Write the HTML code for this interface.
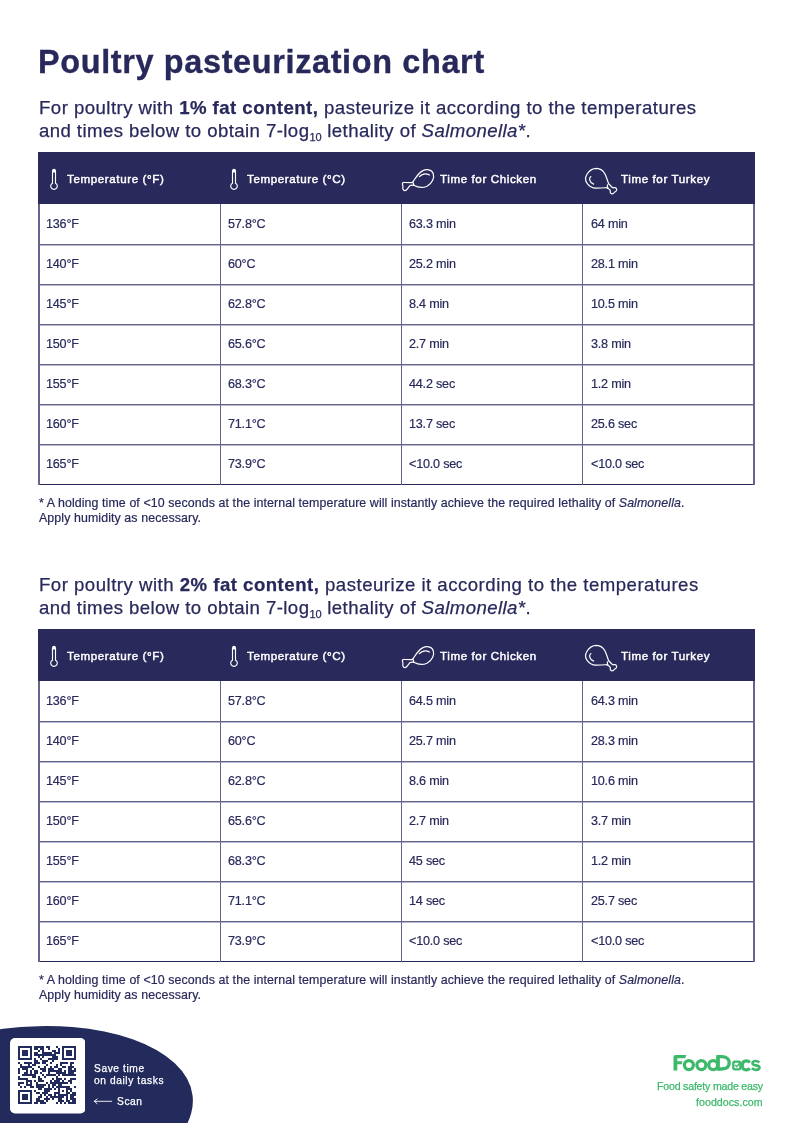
<!DOCTYPE html>
<html><head><meta charset="utf-8"><style>
*{margin:0;padding:0;box-sizing:border-box}
html,body{width:794px;height:1123px;background:#fff;overflow:hidden}
body{position:relative;font-family:"Liberation Sans",sans-serif;color:#28295b}
.t{position:absolute;white-space:nowrap;line-height:1;will-change:transform}
.ic{position:absolute;display:block}
.title{font-size:32.4px;font-weight:bold;letter-spacing:0.66px;-webkit-text-stroke:0.35px #28295b}
.sub{font-size:18.6px;letter-spacing:0.465px;-webkit-text-stroke:0.25px #28295b}
.sub sub{font-size:11px;vertical-align:0;position:relative;top:4px;letter-spacing:0}
.sub b{font-weight:bold}
.hdr{position:absolute;left:38px;width:717px;height:52px;background:#29295b}
.th{font-size:11.6px;color:#fff;letter-spacing:0.6px;-webkit-text-stroke:0.45px #fff}
.td{font-size:12.6px;letter-spacing:-0.2px;-webkit-text-stroke:0.2px #28295b}
.fn{font-size:12.4px;letter-spacing:0.09px;-webkit-text-stroke:0.2px #28295b}
.hl{position:absolute;left:38px;width:717px;height:1px;background:#64648f;box-shadow:0 1px 0 rgba(100,100,143,0.45)}
.hlb{position:absolute;left:38px;width:717px;height:1.2px;background:#28295b}
.vl{position:absolute;width:1.2px;height:281px;background:#64648f}
.ft{font-size:10.2px;color:#fff;letter-spacing:0.6px;-webkit-text-stroke:0.25px #fff}
.gt{font-size:10.6px;color:#3eb96b;-webkit-text-stroke:0.25px #3eb96b}
</style></head><body>
<div class="t title" style="left:37.8px;top:45.57px;">Poultry pasteurization chart</div>
<div class="t sub" style="left:38.6px;top:99.06px;">For poultry with <b>1% fat content,</b> pasteurize it according to the temperatures</div>
<div class="t sub" style="left:38.6px;top:121.76px;letter-spacing:0.42px">and times below to obtain 7-log<sub>10</sub> lethality of <i>Salmonella*</i>.</div>
<div class="hdr" style="top:152px"></div>
<svg class="ic" style="left:46px;top:166px" width="16" height="26" viewBox="0 0 16 26"><path d="M6.0 6.6 V4.7 A2.0 2.0 0 0 1 10.0 4.7 V6.6 Z" fill="#fff"/><path d="M6.5 5 V17.16 A3.3 3.3 0 1 0 9.5 17.16 V5" fill="none" stroke="#fff" stroke-width="1.15"/></svg><svg class="ic" style="left:226.3px;top:166px" width="16" height="26" viewBox="0 0 16 26"><path d="M6.0 6.6 V4.7 A2.0 2.0 0 0 1 10.0 4.7 V6.6 Z" fill="#fff"/><path d="M6.5 5 V17.16 A3.3 3.3 0 1 0 9.5 17.16 V5" fill="none" stroke="#fff" stroke-width="1.15"/></svg><svg class="ic" style="left:398px;top:166px" width="40" height="28" viewBox="0 0 40 28"><g fill="none" stroke="#fff" stroke-width="1.2" stroke-linejoin="round" stroke-linecap="round"><path d="M15.2 15.4 C17.5 12 20.5 7 24.5 4.9 C28.5 2.9 33.5 3.2 35.2 7.5 C36.6 11.5 34.5 17.5 29 20.2 C25 22 20 21.6 15.8 19.2"/><path d="M15.2 15.4 C14.8 16.2 14.6 16.5 13.8 16.6 L6.4 16.5 C5.1 16.3 4.3 17 4.4 18.1 C4.5 19.2 5.3 20 4.9 21 C4.5 22.3 5.1 24.2 6.8 24.6 C7.9 24.8 8.6 24 9.4 22.9 L11.6 19.9 C12.2 19.2 13 19.1 15.8 19.2"/><path d="M14.6 16.3 C15.5 17 15.8 18.2 15.6 19.2"/><path d="M21.4 10.6 C23.5 8.4 27.5 6.8 31.4 9"/></g></svg><svg class="ic" style="left:580px;top:164px" width="40" height="34" viewBox="0 0 40 34"><g fill="none" stroke="#fff" stroke-width="1.2" stroke-linejoin="round" stroke-linecap="round"><path d="M28.6 19.7 C27.5 16.5 26.5 13 25 10 C23.2 6.5 20.5 4.4 16.6 4.3 C12.5 4.3 9 6.8 7 10.2 C5.2 13.2 5 17 7.5 19.8 C9.5 22.2 12.5 24 15.5 24.1 C19.5 24.2 23.5 23.9 26.7 23.7"/><path d="M28.6 19.7 C30 21 31.2 22.5 32.4 23.6 C33.2 24.2 34 23.4 35 23.6 C36.5 23.9 37 25.3 36.4 26.6 C36 27.6 34.8 27.7 34.3 28.5 C33.8 29.3 33.2 29.9 32 29.8 C30.6 29.6 30 28.5 30.3 27.2 C30.5 26.4 30 25.8 29.3 25.2 L26.7 23.7"/><path d="M27.4 20.8 C27.2 22 27.3 23 28 23.9"/><path d="M10.9 12.6 C9 13.8 8.6 17.8 13.6 20.1"/></g></svg><div class="t th" style="left:66.5px;top:173.38px;">Temperature (°F)</div>
<div class="t th" style="left:247.3px;top:173.38px;">Temperature (°C)</div>
<div class="t th" style="left:440.2px;top:173.38px;">Time for Chicken</div>
<div class="t th" style="left:621.4px;top:173.38px;">Time for Turkey</div>
<div class="hl" style="top:244px"></div>
<div class="hl" style="top:284px"></div>
<div class="hl" style="top:324px"></div>
<div class="hl" style="top:364px"></div>
<div class="hl" style="top:404px"></div>
<div class="hl" style="top:444px"></div>
<div class="hlb" style="top:484px"></div>
<div class="vl" style="left:219.5px;top:204px"></div>
<div class="vl" style="left:401.0px;top:204px"></div>
<div class="vl" style="left:582.3px;top:204px"></div>
<div class="vl" style="left:38px;width:1.9px;top:204px"></div>
<div class="vl" style="left:753.1px;width:1.9px;top:204px"></div>
<div class="t td" style="left:46.4px;top:218.13px;">136°F</div>
<div class="t td" style="left:228.1px;top:218.13px;">57.8°C</div>
<div class="t td" style="left:409.1px;top:218.13px;">63.3 min</div>
<div class="t td" style="left:590.9px;top:218.13px;">64 min</div>
<div class="t td" style="left:46.4px;top:258.13px;">140°F</div>
<div class="t td" style="left:228.1px;top:258.13px;">60°C</div>
<div class="t td" style="left:409.1px;top:258.13px;">25.2 min</div>
<div class="t td" style="left:590.9px;top:258.13px;">28.1 min</div>
<div class="t td" style="left:46.4px;top:298.13px;">145°F</div>
<div class="t td" style="left:228.1px;top:298.13px;">62.8°C</div>
<div class="t td" style="left:409.1px;top:298.13px;">8.4 min</div>
<div class="t td" style="left:590.9px;top:298.13px;">10.5 min</div>
<div class="t td" style="left:46.4px;top:338.13px;">150°F</div>
<div class="t td" style="left:228.1px;top:338.13px;">65.6°C</div>
<div class="t td" style="left:409.1px;top:338.13px;">2.7 min</div>
<div class="t td" style="left:590.9px;top:338.13px;">3.8 min</div>
<div class="t td" style="left:46.4px;top:378.13px;">155°F</div>
<div class="t td" style="left:228.1px;top:378.13px;">68.3°C</div>
<div class="t td" style="left:409.1px;top:378.13px;">44.2 sec</div>
<div class="t td" style="left:590.9px;top:378.13px;">1.2 min</div>
<div class="t td" style="left:46.4px;top:418.13px;">160°F</div>
<div class="t td" style="left:228.1px;top:418.13px;">71.1°C</div>
<div class="t td" style="left:409.1px;top:418.13px;">13.7 sec</div>
<div class="t td" style="left:590.9px;top:418.13px;">25.6 sec</div>
<div class="t td" style="left:46.4px;top:458.13px;">165°F</div>
<div class="t td" style="left:228.1px;top:458.13px;">73.9°C</div>
<div class="t td" style="left:409.1px;top:458.13px;">&lt;10.0 sec</div>
<div class="t td" style="left:590.9px;top:458.13px;">&lt;10.0 sec</div>
<div class="t fn" style="left:38.5px;top:497.30px;">* A holding time of &lt;10 seconds at the internal temperature will instantly achieve the required lethality of <i>Salmonella</i>.</div>
<div class="t fn" style="left:38.5px;top:512.10px;">Apply humidity as necessary.</div>

<div class="t sub" style="left:38.6px;top:576.06px;letter-spacing:0.495px;">For poultry with <b>2% fat content,</b> pasteurize it according to the temperatures</div>
<div class="t sub" style="left:38.6px;top:598.76px;letter-spacing:0.42px">and times below to obtain 7-log<sub>10</sub> lethality of <i>Salmonella*</i>.</div>
<div class="hdr" style="top:629px"></div>
<svg class="ic" style="left:46px;top:643px" width="16" height="26" viewBox="0 0 16 26"><path d="M6.0 6.6 V4.7 A2.0 2.0 0 0 1 10.0 4.7 V6.6 Z" fill="#fff"/><path d="M6.5 5 V17.16 A3.3 3.3 0 1 0 9.5 17.16 V5" fill="none" stroke="#fff" stroke-width="1.15"/></svg><svg class="ic" style="left:226.3px;top:643px" width="16" height="26" viewBox="0 0 16 26"><path d="M6.0 6.6 V4.7 A2.0 2.0 0 0 1 10.0 4.7 V6.6 Z" fill="#fff"/><path d="M6.5 5 V17.16 A3.3 3.3 0 1 0 9.5 17.16 V5" fill="none" stroke="#fff" stroke-width="1.15"/></svg><svg class="ic" style="left:398px;top:643px" width="40" height="28" viewBox="0 0 40 28"><g fill="none" stroke="#fff" stroke-width="1.2" stroke-linejoin="round" stroke-linecap="round"><path d="M15.2 15.4 C17.5 12 20.5 7 24.5 4.9 C28.5 2.9 33.5 3.2 35.2 7.5 C36.6 11.5 34.5 17.5 29 20.2 C25 22 20 21.6 15.8 19.2"/><path d="M15.2 15.4 C14.8 16.2 14.6 16.5 13.8 16.6 L6.4 16.5 C5.1 16.3 4.3 17 4.4 18.1 C4.5 19.2 5.3 20 4.9 21 C4.5 22.3 5.1 24.2 6.8 24.6 C7.9 24.8 8.6 24 9.4 22.9 L11.6 19.9 C12.2 19.2 13 19.1 15.8 19.2"/><path d="M14.6 16.3 C15.5 17 15.8 18.2 15.6 19.2"/><path d="M21.4 10.6 C23.5 8.4 27.5 6.8 31.4 9"/></g></svg><svg class="ic" style="left:580px;top:641px" width="40" height="34" viewBox="0 0 40 34"><g fill="none" stroke="#fff" stroke-width="1.2" stroke-linejoin="round" stroke-linecap="round"><path d="M28.6 19.7 C27.5 16.5 26.5 13 25 10 C23.2 6.5 20.5 4.4 16.6 4.3 C12.5 4.3 9 6.8 7 10.2 C5.2 13.2 5 17 7.5 19.8 C9.5 22.2 12.5 24 15.5 24.1 C19.5 24.2 23.5 23.9 26.7 23.7"/><path d="M28.6 19.7 C30 21 31.2 22.5 32.4 23.6 C33.2 24.2 34 23.4 35 23.6 C36.5 23.9 37 25.3 36.4 26.6 C36 27.6 34.8 27.7 34.3 28.5 C33.8 29.3 33.2 29.9 32 29.8 C30.6 29.6 30 28.5 30.3 27.2 C30.5 26.4 30 25.8 29.3 25.2 L26.7 23.7"/><path d="M27.4 20.8 C27.2 22 27.3 23 28 23.9"/><path d="M10.9 12.6 C9 13.8 8.6 17.8 13.6 20.1"/></g></svg><div class="t th" style="left:66.5px;top:650.38px;">Temperature (°F)</div>
<div class="t th" style="left:247.3px;top:650.38px;">Temperature (°C)</div>
<div class="t th" style="left:440.2px;top:650.38px;">Time for Chicken</div>
<div class="t th" style="left:621.4px;top:650.38px;">Time for Turkey</div>
<div class="hl" style="top:721px"></div>
<div class="hl" style="top:761px"></div>
<div class="hl" style="top:801px"></div>
<div class="hl" style="top:841px"></div>
<div class="hl" style="top:881px"></div>
<div class="hl" style="top:921px"></div>
<div class="hlb" style="top:961px"></div>
<div class="vl" style="left:219.5px;top:681px"></div>
<div class="vl" style="left:401.0px;top:681px"></div>
<div class="vl" style="left:582.3px;top:681px"></div>
<div class="vl" style="left:38px;width:1.9px;top:681px"></div>
<div class="vl" style="left:753.1px;width:1.9px;top:681px"></div>
<div class="t td" style="left:46.4px;top:695.13px;">136°F</div>
<div class="t td" style="left:228.1px;top:695.13px;">57.8°C</div>
<div class="t td" style="left:409.1px;top:695.13px;">64.5 min</div>
<div class="t td" style="left:590.9px;top:695.13px;">64.3 min</div>
<div class="t td" style="left:46.4px;top:735.13px;">140°F</div>
<div class="t td" style="left:228.1px;top:735.13px;">60°C</div>
<div class="t td" style="left:409.1px;top:735.13px;">25.7 min</div>
<div class="t td" style="left:590.9px;top:735.13px;">28.3 min</div>
<div class="t td" style="left:46.4px;top:775.13px;">145°F</div>
<div class="t td" style="left:228.1px;top:775.13px;">62.8°C</div>
<div class="t td" style="left:409.1px;top:775.13px;">8.6 min</div>
<div class="t td" style="left:590.9px;top:775.13px;">10.6 min</div>
<div class="t td" style="left:46.4px;top:815.13px;">150°F</div>
<div class="t td" style="left:228.1px;top:815.13px;">65.6°C</div>
<div class="t td" style="left:409.1px;top:815.13px;">2.7 min</div>
<div class="t td" style="left:590.9px;top:815.13px;">3.7 min</div>
<div class="t td" style="left:46.4px;top:855.13px;">155°F</div>
<div class="t td" style="left:228.1px;top:855.13px;">68.3°C</div>
<div class="t td" style="left:409.1px;top:855.13px;">45 sec</div>
<div class="t td" style="left:590.9px;top:855.13px;">1.2 min</div>
<div class="t td" style="left:46.4px;top:895.13px;">160°F</div>
<div class="t td" style="left:228.1px;top:895.13px;">71.1°C</div>
<div class="t td" style="left:409.1px;top:895.13px;">14 sec</div>
<div class="t td" style="left:590.9px;top:895.13px;">25.7 sec</div>
<div class="t td" style="left:46.4px;top:935.13px;">165°F</div>
<div class="t td" style="left:228.1px;top:935.13px;">73.9°C</div>
<div class="t td" style="left:409.1px;top:935.13px;">&lt;10.0 sec</div>
<div class="t td" style="left:590.9px;top:935.13px;">&lt;10.0 sec</div>
<div class="t fn" style="left:38.5px;top:974.30px;">* A holding time of &lt;10 seconds at the internal temperature will instantly achieve the required lethality of <i>Salmonella</i>.</div>
<div class="t fn" style="left:38.5px;top:989.10px;">Apply humidity as necessary.</div>

<svg class="ic" style="left:0;top:1000px" width="220" height="123" viewBox="0 1000 220 123"><ellipse cx="14.1" cy="1117.3" rx="179.8" ry="89.2" transform="rotate(-7 14.1 1117.3)" fill="#232a5c"/></svg>
<svg class="ic" style="left:9.5px;top:1038px" width="75.5" height="75.5"><rect x="0" y="0" width="75.5" height="75.5" rx="5" fill="#fff"/></svg>
<svg class="ic" style="left:17.8px;top:1046.4px" width="58.4" height="58.4" viewBox="0 0 29 29" shape-rendering="crispEdges"><path d="M0 0h1v1h-1zM1 0h1v1h-1zM2 0h1v1h-1zM3 0h1v1h-1zM4 0h1v1h-1zM5 0h1v1h-1zM6 0h1v1h-1zM8 0h1v1h-1zM9 0h1v1h-1zM10 0h1v1h-1zM11 0h1v1h-1zM12 0h1v1h-1zM14 0h1v1h-1zM15 0h1v1h-1zM19 0h1v1h-1zM22 0h1v1h-1zM23 0h1v1h-1zM24 0h1v1h-1zM25 0h1v1h-1zM26 0h1v1h-1zM27 0h1v1h-1zM28 0h1v1h-1zM0 1h1v1h-1zM6 1h1v1h-1zM8 1h1v1h-1zM9 1h1v1h-1zM11 1h1v1h-1zM12 1h1v1h-1zM15 1h1v1h-1zM20 1h1v1h-1zM22 1h1v1h-1zM28 1h1v1h-1zM0 2h1v1h-1zM2 2h1v1h-1zM3 2h1v1h-1zM4 2h1v1h-1zM6 2h1v1h-1zM10 2h1v1h-1zM12 2h1v1h-1zM17 2h1v1h-1zM18 2h1v1h-1zM20 2h1v1h-1zM22 2h1v1h-1zM24 2h1v1h-1zM25 2h1v1h-1zM26 2h1v1h-1zM28 2h1v1h-1zM0 3h1v1h-1zM2 3h1v1h-1zM3 3h1v1h-1zM4 3h1v1h-1zM6 3h1v1h-1zM8 3h1v1h-1zM9 3h1v1h-1zM12 3h1v1h-1zM13 3h1v1h-1zM14 3h1v1h-1zM15 3h1v1h-1zM16 3h1v1h-1zM18 3h1v1h-1zM19 3h1v1h-1zM20 3h1v1h-1zM22 3h1v1h-1zM24 3h1v1h-1zM25 3h1v1h-1zM26 3h1v1h-1zM28 3h1v1h-1zM0 4h1v1h-1zM2 4h1v1h-1zM3 4h1v1h-1zM4 4h1v1h-1zM6 4h1v1h-1zM8 4h1v1h-1zM9 4h1v1h-1zM10 4h1v1h-1zM11 4h1v1h-1zM12 4h1v1h-1zM13 4h1v1h-1zM14 4h1v1h-1zM15 4h1v1h-1zM16 4h1v1h-1zM17 4h1v1h-1zM18 4h1v1h-1zM22 4h1v1h-1zM24 4h1v1h-1zM25 4h1v1h-1zM26 4h1v1h-1zM28 4h1v1h-1zM0 5h1v1h-1zM6 5h1v1h-1zM10 5h1v1h-1zM12 5h1v1h-1zM17 5h1v1h-1zM18 5h1v1h-1zM19 5h1v1h-1zM22 5h1v1h-1zM28 5h1v1h-1zM0 6h1v1h-1zM1 6h1v1h-1zM2 6h1v1h-1zM3 6h1v1h-1zM4 6h1v1h-1zM5 6h1v1h-1zM6 6h1v1h-1zM8 6h1v1h-1zM11 6h1v1h-1zM15 6h1v1h-1zM16 6h1v1h-1zM17 6h1v1h-1zM18 6h1v1h-1zM19 6h1v1h-1zM22 6h1v1h-1zM23 6h1v1h-1zM24 6h1v1h-1zM25 6h1v1h-1zM26 6h1v1h-1zM27 6h1v1h-1zM28 6h1v1h-1zM8 7h1v1h-1zM9 7h1v1h-1zM12 7h1v1h-1zM13 7h1v1h-1zM14 7h1v1h-1zM17 7h1v1h-1zM0 8h1v1h-1zM3 8h1v1h-1zM4 8h1v1h-1zM5 8h1v1h-1zM6 8h1v1h-1zM8 8h1v1h-1zM9 8h1v1h-1zM10 8h1v1h-1zM12 8h1v1h-1zM13 8h1v1h-1zM16 8h1v1h-1zM21 8h1v1h-1zM22 8h1v1h-1zM23 8h1v1h-1zM24 8h1v1h-1zM26 8h1v1h-1zM27 8h1v1h-1zM1 9h1v1h-1zM5 9h1v1h-1zM7 9h1v1h-1zM8 9h1v1h-1zM14 9h1v1h-1zM19 9h1v1h-1zM21 9h1v1h-1zM26 9h1v1h-1zM1 10h1v1h-1zM2 10h1v1h-1zM3 10h1v1h-1zM4 10h1v1h-1zM5 10h1v1h-1zM6 10h1v1h-1zM10 10h1v1h-1zM13 10h1v1h-1zM16 10h1v1h-1zM18 10h1v1h-1zM19 10h1v1h-1zM22 10h1v1h-1zM23 10h1v1h-1zM25 10h1v1h-1zM26 10h1v1h-1zM27 10h1v1h-1zM0 11h1v1h-1zM2 11h1v1h-1zM3 11h1v1h-1zM4 11h1v1h-1zM7 11h1v1h-1zM11 11h1v1h-1zM12 11h1v1h-1zM13 11h1v1h-1zM15 11h1v1h-1zM16 11h1v1h-1zM17 11h1v1h-1zM20 11h1v1h-1zM21 11h1v1h-1zM25 11h1v1h-1zM26 11h1v1h-1zM28 11h1v1h-1zM0 12h1v1h-1zM4 12h1v1h-1zM6 12h1v1h-1zM8 12h1v1h-1zM9 12h1v1h-1zM12 12h1v1h-1zM13 12h1v1h-1zM15 12h1v1h-1zM16 12h1v1h-1zM17 12h1v1h-1zM18 12h1v1h-1zM19 12h1v1h-1zM20 12h1v1h-1zM21 12h1v1h-1zM23 12h1v1h-1zM25 12h1v1h-1zM26 12h1v1h-1zM27 12h1v1h-1zM28 12h1v1h-1zM0 13h1v1h-1zM3 13h1v1h-1zM4 13h1v1h-1zM6 13h1v1h-1zM8 13h1v1h-1zM9 13h1v1h-1zM11 13h1v1h-1zM15 13h1v1h-1zM19 13h1v1h-1zM20 13h1v1h-1zM21 13h1v1h-1zM22 13h1v1h-1zM23 13h1v1h-1zM25 13h1v1h-1zM26 13h1v1h-1zM27 13h1v1h-1zM2 14h1v1h-1zM3 14h1v1h-1zM4 14h1v1h-1zM5 14h1v1h-1zM6 14h1v1h-1zM7 14h1v1h-1zM8 14h1v1h-1zM12 14h1v1h-1zM14 14h1v1h-1zM15 14h1v1h-1zM16 14h1v1h-1zM17 14h1v1h-1zM18 14h1v1h-1zM20 14h1v1h-1zM22 14h1v1h-1zM23 14h1v1h-1zM24 14h1v1h-1zM25 14h1v1h-1zM26 14h1v1h-1zM27 14h1v1h-1zM28 14h1v1h-1zM0 15h1v1h-1zM7 15h1v1h-1zM8 15h1v1h-1zM10 15h1v1h-1zM13 15h1v1h-1zM19 15h1v1h-1zM0 16h1v1h-1zM1 16h1v1h-1zM2 16h1v1h-1zM3 16h1v1h-1zM4 16h1v1h-1zM10 16h1v1h-1zM11 16h1v1h-1zM17 16h1v1h-1zM19 16h1v1h-1zM20 16h1v1h-1zM21 16h1v1h-1zM23 16h1v1h-1zM26 16h1v1h-1zM27 16h1v1h-1zM28 16h1v1h-1zM4 17h1v1h-1zM5 17h1v1h-1zM6 17h1v1h-1zM8 17h1v1h-1zM10 17h1v1h-1zM11 17h1v1h-1zM12 17h1v1h-1zM16 17h1v1h-1zM18 17h1v1h-1zM19 17h1v1h-1zM20 17h1v1h-1zM22 17h1v1h-1zM25 17h1v1h-1zM26 17h1v1h-1zM0 18h1v1h-1zM1 18h1v1h-1zM2 18h1v1h-1zM4 18h1v1h-1zM6 18h1v1h-1zM9 18h1v1h-1zM14 18h1v1h-1zM16 18h1v1h-1zM17 18h1v1h-1zM18 18h1v1h-1zM19 18h1v1h-1zM20 18h1v1h-1zM21 18h1v1h-1zM22 18h1v1h-1zM23 18h1v1h-1zM24 18h1v1h-1zM26 18h1v1h-1zM0 19h1v1h-1zM4 19h1v1h-1zM5 19h1v1h-1zM6 19h1v1h-1zM9 19h1v1h-1zM10 19h1v1h-1zM11 19h1v1h-1zM12 19h1v1h-1zM13 19h1v1h-1zM15 19h1v1h-1zM17 19h1v1h-1zM18 19h1v1h-1zM20 19h1v1h-1zM21 19h1v1h-1zM1 20h1v1h-1zM3 20h1v1h-1zM6 20h1v1h-1zM7 20h1v1h-1zM9 20h1v1h-1zM10 20h1v1h-1zM11 20h1v1h-1zM12 20h1v1h-1zM15 20h1v1h-1zM17 20h1v1h-1zM19 20h1v1h-1zM20 20h1v1h-1zM21 20h1v1h-1zM22 20h1v1h-1zM23 20h1v1h-1zM24 20h1v1h-1zM25 20h1v1h-1zM28 20h1v1h-1zM10 21h1v1h-1zM11 21h1v1h-1zM13 21h1v1h-1zM14 21h1v1h-1zM15 21h1v1h-1zM16 21h1v1h-1zM18 21h1v1h-1zM20 21h1v1h-1zM24 21h1v1h-1zM25 21h1v1h-1zM26 21h1v1h-1zM0 22h1v1h-1zM1 22h1v1h-1zM2 22h1v1h-1zM3 22h1v1h-1zM4 22h1v1h-1zM5 22h1v1h-1zM6 22h1v1h-1zM8 22h1v1h-1zM13 22h1v1h-1zM14 22h1v1h-1zM15 22h1v1h-1zM20 22h1v1h-1zM22 22h1v1h-1zM24 22h1v1h-1zM26 22h1v1h-1zM0 23h1v1h-1zM6 23h1v1h-1zM9 23h1v1h-1zM10 23h1v1h-1zM12 23h1v1h-1zM13 23h1v1h-1zM14 23h1v1h-1zM18 23h1v1h-1zM19 23h1v1h-1zM20 23h1v1h-1zM24 23h1v1h-1zM25 23h1v1h-1zM27 23h1v1h-1zM28 23h1v1h-1zM0 24h1v1h-1zM2 24h1v1h-1zM3 24h1v1h-1zM4 24h1v1h-1zM6 24h1v1h-1zM11 24h1v1h-1zM13 24h1v1h-1zM15 24h1v1h-1zM16 24h1v1h-1zM18 24h1v1h-1zM20 24h1v1h-1zM21 24h1v1h-1zM22 24h1v1h-1zM23 24h1v1h-1zM24 24h1v1h-1zM26 24h1v1h-1zM27 24h1v1h-1zM28 24h1v1h-1zM0 25h1v1h-1zM2 25h1v1h-1zM3 25h1v1h-1zM4 25h1v1h-1zM6 25h1v1h-1zM10 25h1v1h-1zM11 25h1v1h-1zM14 25h1v1h-1zM16 25h1v1h-1zM17 25h1v1h-1zM18 25h1v1h-1zM19 25h1v1h-1zM20 25h1v1h-1zM21 25h1v1h-1zM22 25h1v1h-1zM24 25h1v1h-1zM26 25h1v1h-1zM27 25h1v1h-1zM0 26h1v1h-1zM2 26h1v1h-1zM3 26h1v1h-1zM4 26h1v1h-1zM6 26h1v1h-1zM9 26h1v1h-1zM10 26h1v1h-1zM13 26h1v1h-1zM14 26h1v1h-1zM15 26h1v1h-1zM17 26h1v1h-1zM20 26h1v1h-1zM21 26h1v1h-1zM24 26h1v1h-1zM26 26h1v1h-1zM27 26h1v1h-1zM28 26h1v1h-1zM0 27h1v1h-1zM6 27h1v1h-1zM9 27h1v1h-1zM10 27h1v1h-1zM11 27h1v1h-1zM12 27h1v1h-1zM14 27h1v1h-1zM20 27h1v1h-1zM21 27h1v1h-1zM22 27h1v1h-1zM24 27h1v1h-1zM25 27h1v1h-1zM27 27h1v1h-1zM28 27h1v1h-1zM0 28h1v1h-1zM1 28h1v1h-1zM2 28h1v1h-1zM3 28h1v1h-1zM4 28h1v1h-1zM5 28h1v1h-1zM6 28h1v1h-1zM8 28h1v1h-1zM9 28h1v1h-1zM11 28h1v1h-1zM12 28h1v1h-1zM13 28h1v1h-1zM19 28h1v1h-1zM21 28h1v1h-1zM23 28h1v1h-1zM25 28h1v1h-1zM26 28h1v1h-1zM27 28h1v1h-1zM28 28h1v1h-1z" fill="#232a5c"/></svg>
<div class="t ft" style="left:93.6px;top:1064.17px;">Save time</div>
<div class="t ft" style="left:93.6px;top:1075.97px;">on daily tasks</div>
<svg class="ic" style="left:93px;top:1098px" width="20" height="7" viewBox="0 0 20 7"><path d="M1.3 3.3H18.7M1.3 3.3L4.2 0.9M1.3 3.3L4.2 5.7" stroke="#fff" stroke-width="0.9" fill="none" stroke-linecap="round"/></svg>
<div class="t ft" style="left:117.4px;top:1097.17px;">Scan</div>
<svg class="ic" style="left:670px;top:1050px" width="95" height="25" viewBox="670 1050 95 25"><g fill="#3eb96b"><path d="M673.5 1057 Q673.5 1055 675.5 1055 L686.3 1055 L685.2 1058.3 L677.3 1058.3 L677.3 1061.2 L682.3 1061.2 L681.8 1064.3 L677.3 1064.3 L677.3 1070.6 L673.5 1070.6 Z"/></g><g fill="none" stroke="#3eb96b" stroke-width="3.3"><circle cx="688.9" cy="1065.1" r="4.5"/><circle cx="701.4" cy="1065.1" r="4.5"/><circle cx="713.2" cy="1065.1" r="4.5"/><path d="M718 1056.6 L718 1069 M718 1056.6 L721.5 1056.6 C727 1056.6 729.2 1059.5 729.2 1062.8 C729.2 1066.5 727 1069 721.5 1069 L718 1069"/></g><path d="M716.3 1055 H719.7 V1070.6 H716.3 Z" fill="#3eb96b"/><g fill="none" stroke="#3eb96b"><rect x="733.3" y="1061.7" width="7" height="7.6" rx="1.6" stroke-width="2.3"/><path d="M735.2 1065 L736.9 1066.7 L740.6 1061.5" stroke-width="1.3"/><path d="M749.8 1062.5 C748.8 1061.2 747.6 1060.9 746.3 1060.9 C743.6 1060.9 742.3 1062.9 742.3 1065.5 C742.3 1068.1 743.8 1069.9 746.3 1069.9 C747.6 1069.9 748.8 1069.5 749.8 1068.4" stroke-width="3.1"/><path d="M759.3 1062.5 C758.2 1061.4 757 1061 755.7 1061 C753.8 1061 752.5 1061.9 752.5 1063.2 C752.5 1066.3 759.5 1064.5 759.5 1067.6 C759.5 1069 758 1069.9 755.8 1069.9 C754.3 1069.9 752.8 1069.3 751.8 1068.2" stroke-width="2.6"/></g></svg>
<div class="t gt" style="left:657px;top:1080.83px;letter-spacing:-0.2px">Food safety made easy</div>
<div class="t gt" style="left:695.5px;top:1097.03px;letter-spacing:0.05px">fooddocs.com</div>
</body></html>
